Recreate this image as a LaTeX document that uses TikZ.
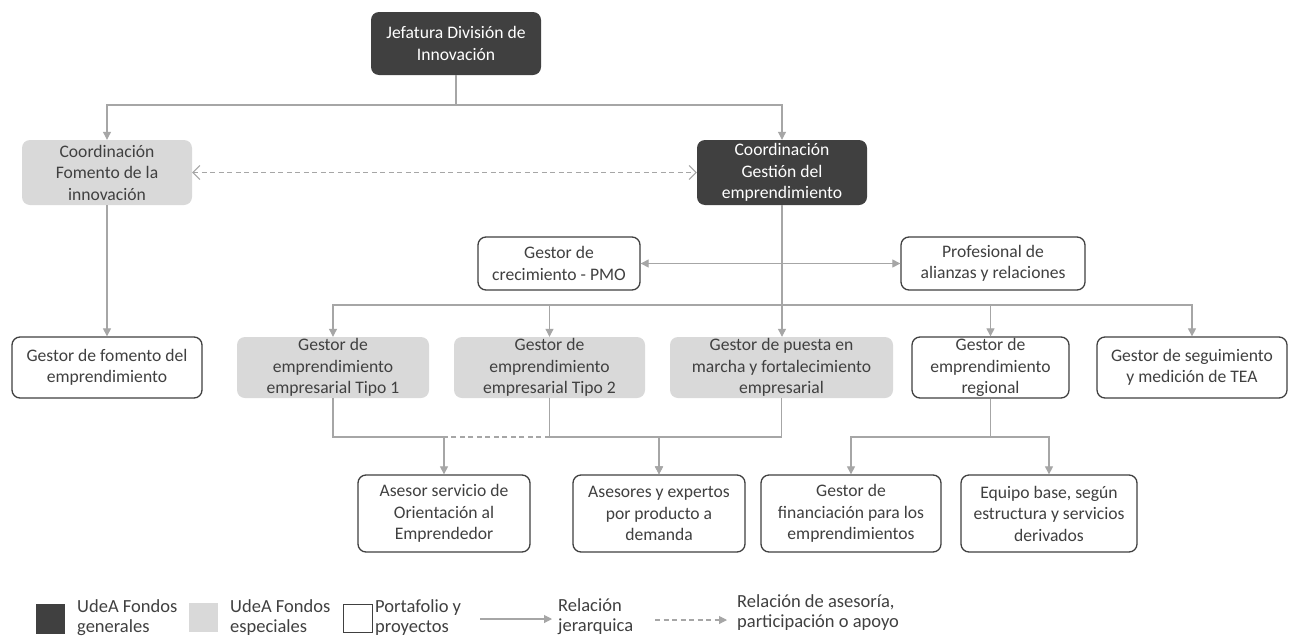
\documentclass[tikz,border=0pt]{standalone}
\usepackage{fontspec}
\setmainfont{Carlito}
\usetikzlibrary{arrows.meta}
\definecolor{darkbox}{HTML}{404040}
\definecolor{lightbox}{HTML}{D9D9D9}
\definecolor{linkgray}{HTML}{A6A6A6}
\definecolor{txt}{HTML}{404040}

\begin{document}
\begin{tikzpicture}[x=1pt,y=-1pt,
  box/.style={rounded corners=8pt, inner sep=0pt, align=center,
    font=\fontsize{17.6}{21.5}\selectfont},
  fondogen/.style={box, fill=darkbox, text=white},
  fondoesp/.style={box, fill=lightbox, text=txt},
  portafolio/.style={box, draw=darkbox, line width=1.3pt, fill=white, text=txt},
  link/.style={draw=linkgray, line width=1.05pt},
  arr/.style={link, -{Triangle[length=8pt,width=8pt]}},
  arrboth/.style={link, {Triangle[length=8pt,width=8pt]}-{Triangle[length=8pt,width=8pt]}},
  dashlink/.style={link, dash pattern=on 5pt off 3.5pt},
  dashboth/.style={dashlink, {Straight Barb[length=7pt,width=14pt]}-{Straight Barb[length=7pt,width=14pt]}},
  dasharr/.style={dashlink, -{Triangle[length=8pt,width=8pt]}},
  legtext/.style={anchor=north west, inner sep=0pt, align=left, text=txt,
    font=\fontsize{18.5}{20.5}\selectfont},
]
\fill[white] (0,0) rectangle (1290,640);
\useasboundingbox (0,0) rectangle (1290,640);
\clip (0,0) rectangle (1290,640);

% level 1 and 2
\node[fondogen, minimum width=170pt, minimum height=63pt] (jef) at (456,43.5)
  {Jefatura División de\\Innovación};
\node[fondoesp, minimum width=170pt, minimum height=65pt] (fom) at (107,172.5)
  {Coordinación\\Fomento de la\\innovación};
\node[fondogen, minimum width=170pt, minimum height=65pt] (ges) at (782,172.5)
  {Coordinación\\Gestión del\\emprendimiento};

% support roles
\node[portafolio, minimum width=162pt, minimum height=53pt] (pmo) at (559,263.5)
  {Gestor de\\crecimiento - PMO};
\node[portafolio, minimum width=184pt, minimum height=53pt] (prof) at (993,263.5)
  {Profesional de\\alianzas y relaciones};

% managers
\node[portafolio, minimum width=190pt, minimum height=61pt] (gfom) at (107,367.5)
  {Gestor de fomento del\\emprendimiento};
\node[fondoesp, minimum width=192pt, minimum height=61pt] (tipo1) at (333,367.5)
  {Gestor de\\emprendimiento\\empresarial Tipo 1};
\node[fondoesp, minimum width=191pt, minimum height=61pt] (tipo2) at (549.5,367.5)
  {Gestor de\\emprendimiento\\empresarial Tipo 2};
\node[fondoesp, minimum width=223pt, minimum height=61pt] (puesta) at (781.5,367.5)
  {Gestor de puesta en\\marcha y fortalecimiento\\empresarial};
\node[portafolio, minimum width=157pt, minimum height=61pt] (regional) at (990.5,367.5)
  {Gestor de\\emprendimiento\\regional};
\node[portafolio, minimum width=190pt, minimum height=61pt] (seg) at (1192,367.5)
  {Gestor de seguimiento\\y medición de TEA};

% advisors
\node[portafolio, minimum width=172pt, minimum height=77pt] (asesor) at (444,513.5)
  {Asesor servicio de\\Orientación al\\Emprendedor};
\node[portafolio, minimum width=172pt, minimum height=77pt] (asesores) at (659,513.5)
  {Asesores y expertos\\por producto a\\demanda};
\node[portafolio, minimum width=180pt, minimum height=77pt] (finan) at (851,513.5)
  {Gestor de\\financiación para los\\emprendimientos};
\node[portafolio, minimum width=176pt, minimum height=77pt] (equipo) at (1049,513.5)
  {Equipo base, según\\estructura y servicios\\derivados};

% bus levels
\coordinate (bus1) at (0,105);
\coordinate (bus2) at (0,305);
\coordinate (bus3) at (0,437);

% connectors
\draw[arr] (jef.south) -- (jef.south |- bus1) -| (fom.north);
\draw[arr] (jef.south) -- (jef.south |- bus1) -| (ges.north);
\draw[dashboth] (fom.east) -- (ges.west);
\draw[arr] (ges.south) -- (ges.south |- puesta.north);
\draw[arrboth] (pmo.east) -- (prof.west);
\draw[arr] (ges.south) -- (ges.south |- bus2) -| (tipo1.north);
\draw[arr] (ges.south) -- (ges.south |- bus2) -| (tipo2.north);
\draw[arr] (ges.south) -- (ges.south |- bus2) -| (regional.north);
\draw[arr] (ges.south) -- (ges.south |- bus2) -| (seg.north);
\draw[arr] (fom.south) -- (gfom.north);

\draw[arr] (tipo1.south) -- (tipo1.south |- bus3) -| (asesor.north);
\draw[dashlink] (tipo2.south |- bus3) -- (asesor.north |- bus3);
\draw[arr] (tipo2.south) -- (tipo2.south |- bus3) -| (asesores.north);
\draw[arr] (puesta.south) -- (puesta.south |- bus3) -| (asesores.north);
\draw[arr] (regional.south) -- (regional.south |- bus3) -| (finan.north);
\draw[arr] (regional.south) -- (regional.south |- bus3) -| (equipo.north);

% legend
\node[fill=darkbox, minimum width=29pt, minimum height=30pt, inner sep=0pt] (lgen) at (50.5,619) {};
\node[legtext] (tgen) at (77,599) {UdeA Fondos\\generales};
\node[fill=lightbox, minimum width=29pt, minimum height=29pt, inner sep=0pt] (lesp) at (203.5,617.5) {};
\node[legtext] (tesp) at (230,599) {UdeA Fondos\\especiales};
\node[draw=darkbox, line width=1pt, minimum width=29pt, minimum height=28pt, inner sep=0pt] (lport) at (357.5,618) {};
\node[legtext] (tport) at (375,599) {Portafolio y\\proyectos};
\coordinate (ljs) at (480,619);
\coordinate (lje) at (552,619);
\draw[arr] (ljs) -- (lje);
\node[legtext] (tjer) at (558,598) {Relación\\jerarquica};
\coordinate (las) at (655,620);
\coordinate (lae) at (727,620);
\draw[dasharr] (las) -- (lae);
\node[legtext] (tase) at (737,594) {Relación de asesoría,\\participación o apoyo};
\end{tikzpicture}
\end{document}
